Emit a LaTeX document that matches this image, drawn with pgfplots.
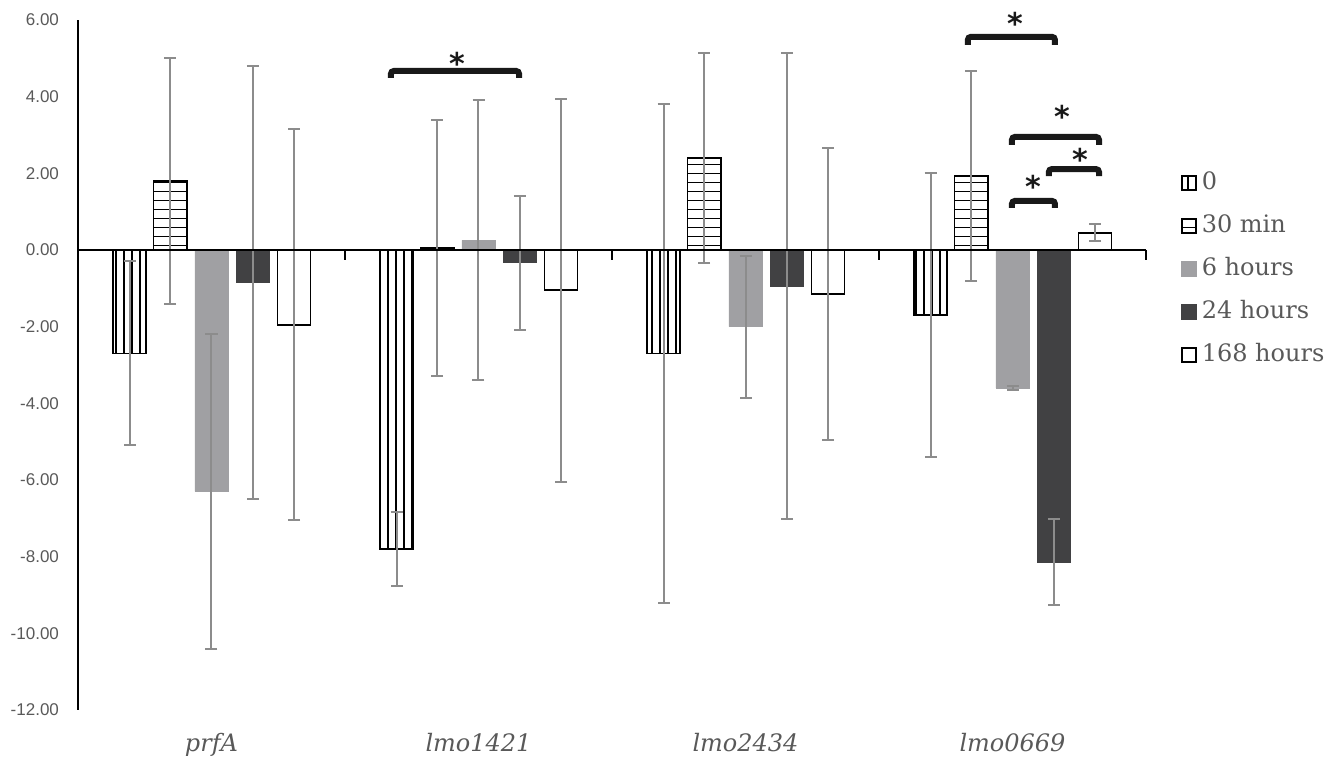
\documentclass[border=0pt]{standalone}
\usepackage{pgfplots}
\usepackage{pgfplotstable}
\pgfplotsset{compat=1.18}
\usetikzlibrary{patterns}
\usepackage{fontspec}
\setmainfont{DejaVu Serif}
\newfontfamily\ticksans{Liberation Sans}
\newfontfamily\starfont{DejaVu Sans}
\definecolor{txtgray}{HTML}{595959}
\definecolor{errgray}{HTML}{8C8C8C}
\definecolor{lightbar}{HTML}{A0A0A3}
\definecolor{darkbar}{HTML}{414143}

\pgfdeclarepatternformonly{vstripes}{\pgfpoint{-1pt}{-2pt}}{\pgfpoint{5pt}{202pt}}{\pgfpoint{4pt}{200pt}}{%
  \pgfsetlinewidth{1pt}%
  \pgfpathmoveto{\pgfpoint{2pt}{-2pt}}\pgfpathlineto{\pgfpoint{2pt}{202pt}}\pgfusepath{stroke}}
\pgfdeclarepatternformonly{hstripes}{\pgfpoint{-2pt}{-1pt}}{\pgfpoint{202pt}{5.5pt}}{\pgfpoint{200pt}{4.5pt}}{%
  \pgfsetlinewidth{0.9pt}%
  \pgfpathmoveto{\pgfpoint{-2pt}{2.25pt}}\pgfpathlineto{\pgfpoint{202pt}{2.25pt}}\pgfusepath{stroke}}

\pgfplotstableread{
x y e
0 -2.70 2.40
1 -7.80 0.97
2 -2.70 6.50
3 -1.70 3.70
}\tzero
\pgfplotstableread{
x y e
0 1.80 3.20
1 0.05 3.35
2 2.40 2.73
3 1.93 2.73
}\tthirty
\pgfplotstableread{
x y e
0 -6.30 4.10
1 0.25 3.65
2 -2.00 1.85
3 -3.60 0.05
}\tsix
\pgfplotstableread{
x y e
0 -0.85 5.65
1 -0.33 1.75
2 -0.95 6.08
3 -8.15 1.12
}\ttwentyfour
\pgfplotstableread{
x y e
0 -1.95 5.10
1 -1.05 5.00
2 -1.15 3.80
3 0.45 0.22
}\tonesixeight

\begin{document}
\begin{tikzpicture}
\begin{axis}[
  scale only axis, width=534pt, height=345pt,
  xmin=-0.5, xmax=3.5, ymin=-12, ymax=6,
  axis y line=left, axis x line=bottom,
  x axis line style={draw=none},
  y axis line style={line width=0.8pt, -},
  ytick={-12,-10,...,6},
  xtick={0,1,2,3},
  xticklabels={prfA,lmo1421,lmo2434,lmo0669},
  major tick length=0pt,
  yticklabel style={font=\ticksans\fontsize{8.5}{10}\selectfont, text=txtgray, xshift=-6pt},
  xticklabel style={font=\itshape\fontsize{12}{14}\selectfont, text=txtgray, yshift=-8pt},
  /pgf/number format/.cd, fixed, fixed zerofill, precision=2, assume math mode=true,
  /pgfplots/.cd,
  ybar, bar width=0.124,
  clip=false,
  legend image code/.code={\draw[#1, line width=0.8pt] (0pt,-3.5pt) rectangle (7pt,3.5pt);},
  legend style={at={(1.027,0.79)}, anchor=north west, draw=none, fill=none,
    font=\fontsize{12}{14}\selectfont, text=txtgray, row sep=7.5pt,
    nodes={inner xsep=2.5pt, inner ysep=1pt, text height=9pt, text depth=3pt}},
  legend cell align=left,
  error bars/y dir=both, error bars/y explicit,
  error bars/error bar style={line width=1pt, errgray},
  error bars/error mark options={rotate=90, errgray, mark size=3pt, line width=1pt},
]
\addplot[bar shift=-0.307, draw=black, line width=0.9pt, fill=white,
  pattern=vstripes, pattern color=black]
  table[x=x, y=y, y error=e] {\tzero};
\addlegendentry{0}
\addplot[bar shift=-0.155, draw=black, line width=0.9pt, fill=white,
  pattern=hstripes, pattern color=black]
  table[x=x, y=y, y error=e] {\tthirty};
\addlegendentry{30 min}
\addplot[bar shift=0, draw=lightbar, fill=lightbar]
  table[x=x, y=y, y error=e] {\tsix};
\addlegendentry{6 hours}
\addplot[bar shift=0.155, draw=darkbar, fill=darkbar]
  table[x=x, y=y, y error=e] {\ttwentyfour};
\addlegendentry{24 hours}
\addplot[bar shift=0.309, draw=black, line width=0.9pt, fill=white]
  table[x=x, y=y, y error=e] {\tonesixeight};
\addlegendentry{168 hours}

\draw[line width=1.3pt] (axis cs:-0.5,0) -- (axis cs:3.5,0);
\draw[line width=1.2pt] (axis cs:0.5,0) -- ++(0pt,-5pt);
\draw[line width=1.2pt] (axis cs:1.5,0) -- ++(0pt,-5pt);
\draw[line width=1.2pt] (axis cs:2.5,0) -- ++(0pt,-5pt);
\draw[line width=1.2pt] (axis cs:3.5,0) -- ++(0pt,-5pt);

\begin{scope}[line width=3pt, rounded corners=1.5pt, color=black!90]
\draw (axis cs:0.672,4.49) -- (axis cs:0.672,4.67) -- (axis cs:1.152,4.67) -- (axis cs:1.152,4.49);
\draw (axis cs:2.833,5.35) -- (axis cs:2.833,5.56) -- (axis cs:3.159,5.56) -- (axis cs:3.159,5.35);
\draw (axis cs:2.998,2.74) -- (axis cs:2.998,2.95) -- (axis cs:3.324,2.95) -- (axis cs:3.324,2.74);
\draw (axis cs:3.136,1.93) -- (axis cs:3.136,2.11) -- (axis cs:3.324,2.11) -- (axis cs:3.324,1.93);
\draw (axis cs:2.998,1.10) -- (axis cs:2.998,1.28) -- (axis cs:3.159,1.28) -- (axis cs:3.159,1.10);
\end{scope}
\begin{scope}[every node/.style={anchor=north, inner sep=0pt, font=\starfont\bfseries\fontsize{15}{15}\selectfont, text=black!90}]
\node at (axis cs:0.919,5.17) {*};
\node at (axis cs:3.009,6.21) {*};
\node at (axis cs:3.185,3.78) {*};
\node at (axis cs:3.253,2.66) {*};
\node at (axis cs:3.077,1.96) {*};
\end{scope}
\end{axis}
\path (-39pt,-24pt) rectangle (633pt,355pt);
\end{tikzpicture}
\end{document}
